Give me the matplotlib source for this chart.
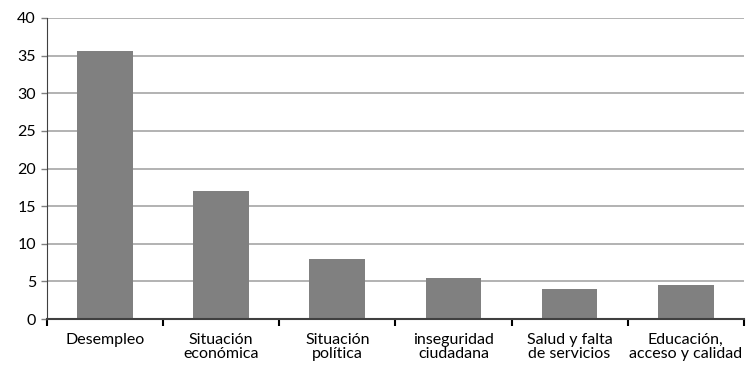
import matplotlib.pyplot as plt
import numpy as np

categories = ["Desempleo", "Situación\neconómica", "Situación\npolítica",
              "inseguridad\nciudadana", "Salud y falta\nde servicios",
              "Educación,\nacceso y calidad"]
values = [35.6, 17.0, 8.0, 5.45, 4.0, 4.5]

plt.rcParams['font.family'] = ['Lato', 'DejaVu Sans']

fig = plt.figure(figsize=(7.46, 3.66), dpi=100)
ax = fig.add_axes([0.063, 0.128, 0.934, 0.823])

x = np.arange(len(categories)) + 0.5
ax.bar(x, values, width=0.48, color='#808080', zorder=3)

ax.set_xlim(0, len(categories))
ax.set_ylim(0, 40)
ax.set_yticks(range(0, 41, 5))
ax.yaxis.grid(True, color='#a6a6a6', linewidth=1.2, zorder=0)

# category boundaries as major ticks, labels on the minor ticks at bar centres
ax.set_xticks(range(len(categories) + 1))
ax.set_xticklabels([])
ax.set_xticks(x, minor=True)
ax.set_xticklabels(categories, minor=True, fontsize=11.5, linespacing=0.98)
ax.tick_params(axis='x', which='minor', length=0, pad=10)
ax.tick_params(axis='x', which='major', length=5, width=1.5, direction='out', color='black')
ax.tick_params(axis='y', length=4, width=1, labelsize=11.5, pad=4, color='#808080')

for side in ['top', 'right']:
    ax.spines[side].set_visible(False)
ax.spines['left'].set_color('#404040')
ax.spines['bottom'].set_color('#404040')
ax.spines['bottom'].set_linewidth(1.5)
ax.spines['bottom'].set_zorder(4)

fig.savefig('out.png', dpi=100)
